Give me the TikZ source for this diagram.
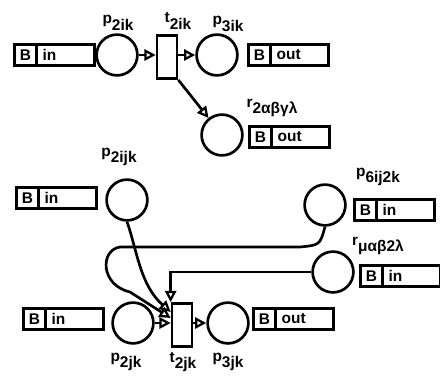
\documentclass[tikz,border=0pt]{standalone}
\usepackage{fontspec}
\setmainfont{Liberation Sans}
\usetikzlibrary{arrows.meta,positioning}

\tikzset{
  place/.style={draw, circle, line width=1.9pt, minimum size=1.02cm, inner sep=0pt},
  trans/.style={draw, rectangle, line width=1.9pt, minimum width=0.5cm, minimum height=1.08cm, inner sep=0pt},
  port/.style={draw, rectangle, line width=1.9pt, anchor=west, minimum width=2cm, minimum height=0.53cm, inner sep=0pt},
  bcell/.style={draw, rectangle, line width=2.2pt, anchor=west, minimum width=0.55cm, minimum height=0.53cm, inner sep=0pt, font=\fontsize{11}{13}\bfseries},
  porttext/.style={inner sep=0pt, font=\fontsize{11}{13}\bfseries},
  lbl/.style={inner sep=0pt, font=\fontsize{11}{13}\bfseries},
  arc/.style={line width=1.9pt, -{Triangle[open, length=8pt, width=8pt, line width=1.6pt]}}
}
\newcommand{\portbox}[4]{%
  \node[port] (#1) at (#2,#3) {};
  \node[bcell] (#1b) at (#1.west) {B};
  \node[porttext, right=3pt of #1b] (#1t) {#4};}
\newcommand{\sublbl}[2]{#1\raisebox{-0.8ex}{#2}}

\begin{document}
\begin{tikzpicture}[x=0.025cm, y=-0.025cm]
\useasboundingbox (0,0) rectangle (440,387);

% upper net
\portbox{bina}{13}{55}{in}
\node[place] (p2ik) at (117,55) {};
\node[trans] (t2ik) at (167,57) {};
\node[place] (p3ik) at (217,55) {};
\portbox{bouta}{247}{55}{out}
\node[place] (rg) at (222,135) {};
\portbox{boutb}{248}{137}{out}

\node[lbl] (lp2ik) at (118,23) {\sublbl{p}{2ik}};
\node[lbl] (lt2ik) at (178,21) {\sublbl{t}{2ik}};
\node[lbl] (lp3ik) at (228,24) {\sublbl{p}{3ik}};
\node[lbl] (lrg) at (272,108) {\sublbl{r}{2αβγλ}};

\draw[arc] (p2ik) -- (t2ik.west |- p2ik);
\draw[arc] (t2ik.east |- p3ik) -- (p3ik);
\draw[arc] (t2ik.south east) -- (rg);

% lower net
\portbox{binb}{15}{198}{in}
\node[place] (p2ijk) at (127,200) {};
\node[place] (p6ij2k) at (325,205) {};
\portbox{binc}{353}{210}{in}
\node[place] (rmu) at (333,272) {};
\portbox{bind}{359}{276}{in}

\portbox{bine}{22}{319}{in}
\node[place] (p2jk) at (133,323) {};
\node[trans] (t2jk) at (182,325) {};
\node[place] (p3jk) at (228,323) {};
\portbox{boutc}{252}{319}{out}

\node[lbl] (lp2ijk) at (119,157) {\sublbl{p}{2ijk}};
\node[lbl] (lp6ij2k) at (378,177) {\sublbl{p}{6ij2k}};
\node[lbl] (lrmu) at (378,246) {\sublbl{r}{μαβ2λ}};
\node[lbl] (lp2jk) at (126,362) {\sublbl{p}{2jk}};
\node[lbl] (lt2jk) at (183,362) {\sublbl{t}{2jk}};
\node[lbl] (lp3jk) at (228,362) {\sublbl{p}{3jk}};

\draw[arc] (p2ijk.south) .. controls (137,250) and (140,285) .. (t2jk.west |- 0,312);
\draw[arc] (p6ij2k.south) .. controls (320,245) .. (300,247) -- (120,247)
  .. controls (100,250) and (100,285) .. (130,292) -- (t2jk.west |- 0,318);
\draw[arc] (rmu.west) -- (t2jk.north west |- rmu.west) -- (t2jk.north west);
\draw[arc] (p2jk) -- (t2jk.west |- p2jk);
\draw[arc] (t2jk.east |- p3jk) -- (p3jk);
\end{tikzpicture}
\end{document}
